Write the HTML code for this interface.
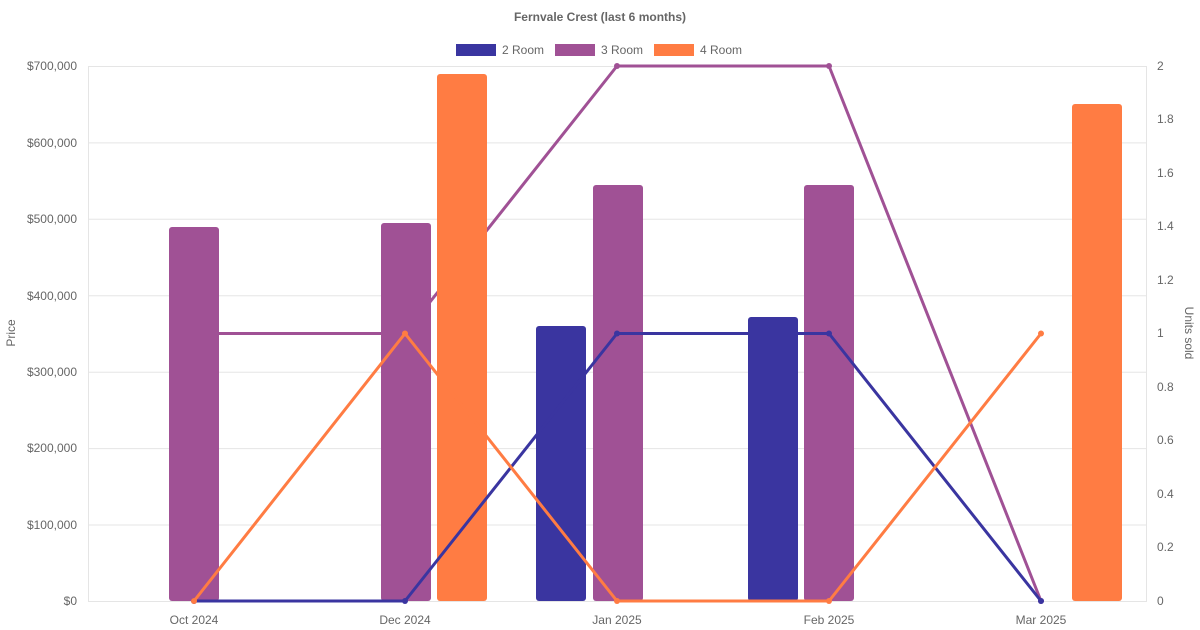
<!DOCTYPE html>
<html><head><meta charset="utf-8"><style>
html,body{margin:0;padding:0;background:#fff;}
svg{display:block;font-family:"Liberation Sans",Arial,sans-serif;}
</style></head><body>
<svg width="1200" height="630" viewBox="0 0 1200 630" xmlns="http://www.w3.org/2000/svg">
<text x="600" y="21" text-anchor="middle" font-size="12" font-weight="bold" fill="#666">Fernvale Crest (last 6 months)</text>
<!-- legend -->
<rect x="456" y="44" width="40" height="12" fill="#3a35a0"/>
<text x="502" y="54" font-size="12" fill="#666">2 Room</text>
<rect x="555" y="44" width="40" height="12" fill="#a05195"/>
<text x="601" y="54" font-size="12" fill="#666">3 Room</text>
<rect x="654" y="44" width="40" height="12" fill="#ff7c43"/>
<text x="700" y="54" font-size="12" fill="#666">4 Room</text>
<!-- grid -->
<g stroke="#e5e5e5" stroke-width="1">
<line x1="88" y1="66.5" x2="1147" y2="66.5"/>
<line x1="88" y1="142.9" x2="1147" y2="142.9"/>
<line x1="88" y1="219.3" x2="1147" y2="219.3"/>
<line x1="88" y1="295.8" x2="1147" y2="295.8"/>
<line x1="88" y1="372.2" x2="1147" y2="372.2"/>
<line x1="88" y1="448.6" x2="1147" y2="448.6"/>
<line x1="88" y1="525" x2="1147" y2="525"/>
<line x1="88" y1="601.5" x2="1147" y2="601.5"/>
<line x1="88.5" y1="66" x2="88.5" y2="601"/>
<line x1="1146.5" y1="66" x2="1146.5" y2="601"/>
</g>
<!-- left axis -->
<g font-size="12" fill="#666" text-anchor="end">
<text x="77" y="70">$700,000</text>
<text x="77" y="147">$600,000</text>
<text x="77" y="223">$500,000</text>
<text x="77" y="300">$400,000</text>
<text x="77" y="376">$300,000</text>
<text x="77" y="452">$200,000</text>
<text x="77" y="529">$100,000</text>
<text x="77" y="605">$0</text>
</g>
<g font-size="12" fill="#666">
<text x="1157" y="70">2</text>
<text x="1157" y="123">1.8</text>
<text x="1157" y="177">1.6</text>
<text x="1157" y="230">1.4</text>
<text x="1157" y="284">1.2</text>
<text x="1157" y="337">1</text>
<text x="1157" y="391">0.8</text>
<text x="1157" y="444">0.6</text>
<text x="1157" y="498">0.4</text>
<text x="1157" y="551">0.2</text>
<text x="1157" y="605">0</text>
</g>
<g font-size="12" fill="#666" text-anchor="middle">
<text x="194" y="624">Oct 2024</text>
<text x="405" y="624">Dec 2024</text>
<text x="617" y="624">Jan 2025</text>
<text x="829" y="624">Feb 2025</text>
<text x="1041" y="624">Mar 2025</text>
</g>
<text transform="translate(15,333) rotate(-90)" font-size="12" fill="#666" text-anchor="middle">Price</text>
<text transform="translate(1185,333) rotate(90)" font-size="12" fill="#666" text-anchor="middle">Units sold</text>
<!-- 3 room line (behind bars) -->
<polyline points="194,333.5 405,333.5 617,66 829,66 1041,601" fill="none" stroke="#a05195" stroke-width="3" stroke-linejoin="round"/>
<g fill="#a05195"><circle cx="617" cy="66" r="3"/><circle cx="829" cy="66" r="3"/><circle cx="1041" cy="601" r="3"/></g>
<!-- bars -->
<g>
<rect x="169" y="227" width="50" height="374" rx="3" fill="#a05195"/>
<rect x="381" y="223" width="50" height="378" rx="3" fill="#a05195"/>
<rect x="437" y="74" width="50" height="527" rx="3" fill="#ff7c43"/>
<rect x="536" y="326" width="50" height="275" rx="3" fill="#3a35a0"/>
<rect x="593" y="185" width="50" height="416" rx="3" fill="#a05195"/>
<rect x="748" y="317" width="50" height="284" rx="3" fill="#3a35a0"/>
<rect x="804" y="185" width="50" height="416" rx="3" fill="#a05195"/>
<rect x="1072" y="104" width="50" height="497" rx="3" fill="#ff7c43"/>
</g>
<!-- 2 room line -->
<polyline points="194,601 405,601 617,333.5 829,333.5 1041,601" fill="none" stroke="#3a35a0" stroke-width="3" stroke-linejoin="round"/>
<g fill="#3a35a0"><circle cx="194" cy="601" r="3"/><circle cx="405" cy="601" r="3"/><circle cx="617" cy="333.5" r="3"/><circle cx="829" cy="333.5" r="3"/><circle cx="1041" cy="601" r="3"/></g>
<!-- 4 room line -->
<polyline points="194,601 405,333.5 617,601 829,601 1041,333.5" fill="none" stroke="#ff7c43" stroke-width="3" stroke-linejoin="round"/>
<g fill="#ff7c43"><circle cx="194" cy="601" r="3"/><circle cx="405" cy="333.5" r="3"/><circle cx="617" cy="601" r="3"/><circle cx="829" cy="601" r="3"/><circle cx="1041" cy="333.5" r="3"/></g>
</svg>
</body></html>
